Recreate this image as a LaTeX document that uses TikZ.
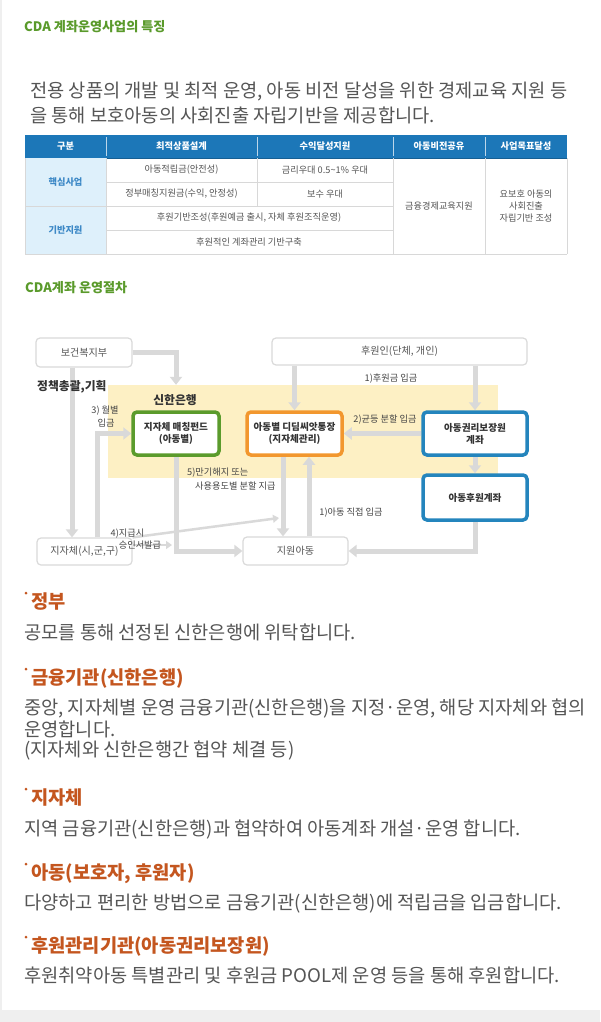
\documentclass[tikz,border=0pt]{standalone}
\usepackage{fontspec}
\setmainfont{Noto Sans CJK KR}
\usetikzlibrary{arrows.meta,calc}
\definecolor{titlegreen}{HTML}{5A9A2B}
\definecolor{headorange}{HTML}{C4561F}
\definecolor{bodygray}{HTML}{555555}
\definecolor{darktxt}{HTML}{333333}
\definecolor{lbltxt}{HTML}{444444}
\definecolor{headblue}{HTML}{1C77B8}
\definecolor{colbg}{HTML}{DEF0FB}
\definecolor{coltxt}{HTML}{3C88C6}
\definecolor{gridgray}{HTML}{D8D8D8}
\definecolor{yellowbg}{HTML}{FDF0C4}
\definecolor{boxgreen}{HTML}{5B9B2C}
\definecolor{boxorange}{HTML}{F2972E}
\definecolor{boxblue}{HTML}{2485BD}
\definecolor{conngray}{HTML}{D9D9D9}
\definecolor{boxgray}{HTML}{DADADA}
\definecolor{bandgray}{HTML}{EFEFEF}
\begin{document}
\begin{tikzpicture}[x=1pt,y=-1pt,
  tabtxt/.style={font=\fontsize{9.2}{12}\selectfont, text=bodygray, inner sep=0pt, align=center},
  tabhead/.style={font=\fontsize{9.2}{11}\selectfont\bfseries, text=white, inner sep=0pt},
  coltext/.style={font=\fontsize{9.2}{11}\selectfont\bfseries, text=coltxt, inner sep=0pt},
  plainbox/.style={draw=boxgray, line width=1.2pt, rounded corners=4pt, fill=white, font=\fontsize{10.1}{12}\selectfont, text=bodygray, inner sep=0pt},
  colbox/.style={line width=3.5pt, rounded corners=4pt, fill=white, font=\fontsize{9.6}{12.2}\selectfont\bfseries, text=darktxt, align=center, inner sep=0pt},
  conn/.style={draw=conngray, line width=5pt, -{Triangle[width=12pt,length=8pt]}},
  thinconn/.style={draw=conngray, line width=2.5pt, -{Triangle[width=8pt,length=6pt]}},
  lbl/.style={font=\fontsize{9.2}{11}\selectfont, text=lbltxt, inner sep=0pt, align=center},
  biglbl/.style={font=\fontsize{11.8}{14}\selectfont\bfseries, text=darktxt, inner sep=0pt},
  bigtitle/.style={font=\fontsize{13.1}{15}\selectfont\bfseries, text=titlegreen, inner sep=0pt, anchor=base west},
  bodytxt/.style={font=\fontsize{18.7}{22}\selectfont, text=bodygray, inner sep=0pt, anchor=base west},
  headtxt/.style={font=\fontsize{18.7}{22}\selectfont\bfseries, text=headorange, inner sep=0pt, anchor=base west},
  bulletdot/.style={fill=headorange, circle, inner sep=0pt, minimum size=3pt}
]
\useasboundingbox (0,0) rectangle (600,1022);
\fill[white] (0,0) rectangle (600,1022);
\fill[bandgray] (0,1010) rectangle (600,1022);
\fill[bandgray] (0,0) rectangle (2,1010);

% ---------- section 1 ----------
\node[bigtitle] (t1) at (24,32) {CDA 계좌운영사업의 특징};
\node[bodytxt] (intro1) at (30,97.1) {전용 상품의 개발 및 최적 운영, 아동 비전 달성을 위한 경제교육 지원 등};
\node[bodytxt] (intro2) at (30,122.1) {을 통해 보호아동의 사회진출 자립기반을 제공합니다.};

% ---------- table ----------
\fill[headblue] (25,135) rectangle (567,158);
\draw[headblue!80!black, line width=1pt] (25,158) -- (567,158);
\foreach \cx in {106,257,393,485} \draw[white!70!headblue, line width=0.6pt] (\cx,137) -- (\cx,156);
\fill[colbg] (25,158) rectangle (106,254);
\draw[gridgray, line width=0.8pt]
  (106,182) -- (393,182)
  (25,206) -- (393,206)
  (106,230) -- (393,230)
  (25,254) -- (567,254)
  (25,158) -- (25,254)
  (106,158) -- (106,254)
  (257,158) -- (257,206)
  (393,158) -- (393,254)
  (485,158) -- (485,254)
  (567,158) -- (567,254);
\node[tabhead] (th1) at (65.5,146.5) {구분};
\node[tabhead] (th2) at (181.5,146.5) {최적상품설계};
\node[tabhead] (th3) at (325,146.5) {수익달성지원};
\node[tabhead] (th4) at (439,146.5) {아동비전공유};
\node[tabhead] (th5) at (526,146.5) {사업목표달성};
\node[coltext] (tc1) at (65.5,182) {핵심사업};
\node[coltext] (tc2) at (65.5,230) {기반지원};
\node[tabtxt] (ta1) at (181.5,170) {아동적립금(안전성)};
\node[tabtxt] (ta2) at (325,170) {금리우대 0.5\textasciitilde1\% 우대};
\node[tabtxt] (tb1) at (181.5,194) {정부매칭지원금(수익, 안정성)};
\node[tabtxt] (tb2) at (325,194) {보수 우대};
\node[tabtxt] (tcc) at (249,218) {후원기반조성(후원예금 출시, 자체 후원조직운영)};
\node[tabtxt] (td) at (249,242) {후원적인 계좌관리 기반구축};
\node[tabtxt] (te) at (439,206) {금융경제교육지원};
\node[tabtxt] (tf) at (526,206) {요보호 아동의\\사회진출\\자립기반 조성};

% ---------- section 2 diagram ----------
\node[bigtitle] (t2) at (25,292) {CDA계좌 운영절차};

\node[fill=yellowbg, minimum width=390pt, minimum height=93pt, inner sep=0pt] (bank) at (303,431.5) {};

\node[plainbox, minimum width=96pt, minimum height=29pt] (mohw) at (84,352.5) {보건복지부};
\node[plainbox, minimum width=255pt, minimum height=27pt] (sponsor) at (399.5,351.5) {후원인(단체, 개인)};
\node[plainbox, minimum width=95pt, minimum height=27pt] (gov) at (84.5,551.5) {지자체(시,군,구)};
\node[plainbox, minimum width=105pt, minimum height=28pt] (child) at (295.5,551) {지원아동};

\node[colbox, draw=boxgreen, minimum width=86pt, minimum height=43pt] (green) at (176,433.5) {지자체 매칭펀드\\(아동별)};
\node[colbox, draw=boxorange, minimum width=95pt, minimum height=43pt] (orange) at (294.5,433.5) {아동별 디딤씨앗통장\\(지자체관리)};
\node[colbox, draw=boxblue, minimum width=104pt, minimum height=43pt] (blue) at (475,433.5) {아동권리보장원\\계좌};
\node[colbox, draw=boxblue, minimum width=104pt, minimum height=45pt] (acct) at (475,497.5) {아동후원계좌};

% connectors
\draw[conn] (mohw.east) -| (green.north |- bank.north);
\draw[conn] ([xshift=-12pt]mohw.south) -- ([xshift=-12.5pt]gov.north);
\draw[conn] ([xshift=12.5pt]gov.north) |- (green.west);
\draw[conn] (sponsor.south -| orange.north) -- (orange.north);
\draw[conn] (sponsor.south -| blue.north) -- (blue.north);
\draw[conn] (blue.west) -- (orange.east);
\draw[conn] (blue.south) -- (acct.north);
\draw[conn] (acct.south) |- (child.east);
\draw[conn] ([xshift=-11.5pt]orange.south) -- ([xshift=-11.5pt]orange.south |- child.north);
\draw[conn] ([xshift=14.5pt]orange.south |- child.north) -- ([xshift=14.5pt]orange.south);
\draw[conn] (green.south) |- (child.west);
\coordinate (t4a) at (279,518);
\coordinate (t4b) at (172,545);
\draw[thinconn] (gov.north east) -- (t4a);
\draw[thinconn] (gov.east |- t4b) -- (t4b);

% labels
\node[biglbl] (banklbl) at (175,400) {신한은행};
\node[biglbl, anchor=west] (policy) at (37,387) {정책총괄,기획};
\node[lbl] (l1) at (391,379) {1)후원금 입금};
\node[lbl] (l2) at (385,420) {2)균등 분할 입금};
\node[lbl] (l3a) at (105,411) {3) 월별};
\node[lbl] (l3b) at (106,423) {입금};
\node[lbl] (l4a) at (127.5,534) {4)지급시};
\node[lbl] (l4b) at (140,545) {승인서발급};
\node[lbl, anchor=west] (l5a) at (187,473) {5)만기해지 또는};
\node[lbl, anchor=west] (l5b) at (195,486) {사용용도별 분할 지급};
\node[lbl] (l6) at (351,513) {1)아동 직접 입금};

% ---------- text sections ----------
\node[bulletdot] (d1) at (26,593) {};
\node[headtxt] (h1) at (31,608.1) {정부};
\node[bodytxt] (b1) at (24,639.1) {공모를 통해 선정된 신한은행에 위탁합니다.};

\node[bulletdot] (d2) at (26,669) {};
\node[headtxt] (h2) at (31,684.1) {금융기관(신한은행)};
\node[bodytxt] (b2a) at (24,714.1) {중앙, 지자체별 운영 금융기관(신한은행)을 지정·운영, 해당 지자체와 협의};
\node[bodytxt] (b2b) at (24,736.1) {운영합니다.};
\node[bodytxt] (b2c) at (24,756.1) {(지자체와 신한은행간 협약 체결 등)};

\node[bulletdot] (d3) at (26,789) {};
\node[headtxt] (h3) at (31,804.1) {지자체};
\node[bodytxt] (b3) at (24,835.1) {지역 금융기관(신한은행)과 협약하여 아동계좌 개설·운영 합니다.};

\node[bulletdot] (d4) at (26,864) {};
\node[headtxt] (h4) at (31,879.1) {아동(보호자, 후원자)};
\node[bodytxt] (b4) at (24,909.1) {다양하고 편리한 방법으로 금융기관(신한은행)에 적립금을 입금합니다.};

\node[bulletdot] (d5) at (26,937) {};
\node[headtxt] (h5) at (31,952.1) {후원관리기관(아동권리보장원)};
\node[bodytxt] (b5) at (24,982.1) {후원취약아동 특별관리 및 후원금 POOL제 운영 등을 통해 후원합니다.};
\end{tikzpicture}
\end{document}
